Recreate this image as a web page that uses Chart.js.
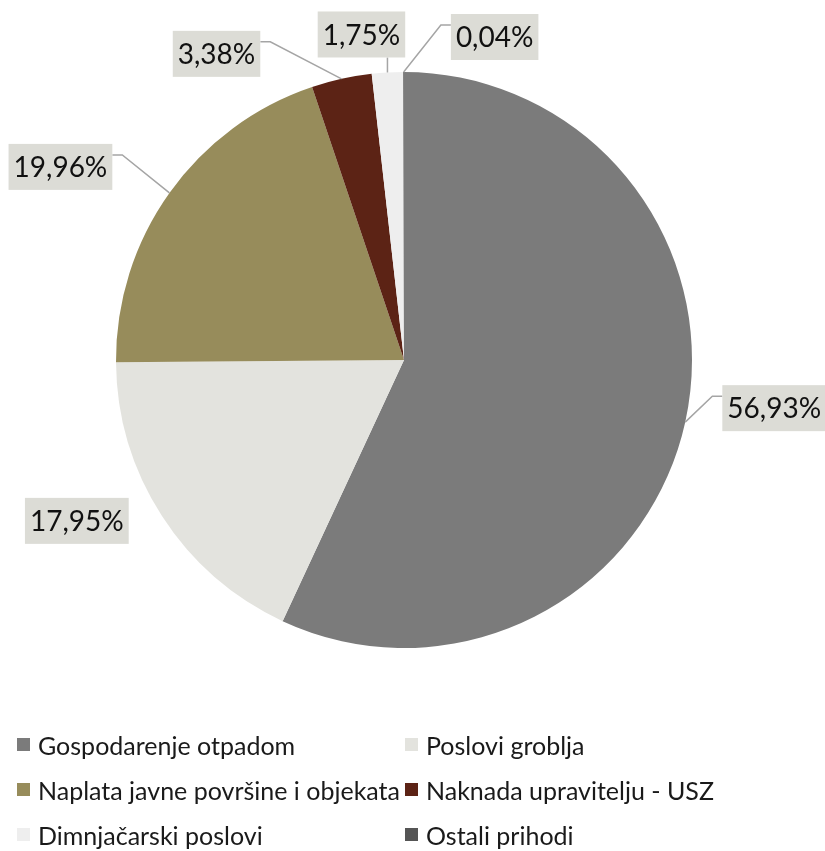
<!DOCTYPE html>
<html>
<head>
<meta charset="utf-8">
<script src="https://cdn.jsdelivr.net/npm/chart.js@4.4.1/dist/chart.umd.min.js"></script>
<style>
    html, body { margin: 0; padding: 0; background: #fff; }
    #wrap { position: relative; width: 825px; height: 851px; overflow: hidden; }
    #chart { position: absolute; left: 0; top: 0; }
    #legend {
        position: absolute; left: 17px; top: 722px;
        display: grid; grid-template-columns: 388px auto; grid-auto-rows: 45px;
        font-family: Lato, "Open Sans", sans-serif; font-size: 25px; color: #1a1a1a;
    }
    .item { display: flex; align-items: center; white-space: nowrap; }
    .swatch { width: 13px; height: 13px; margin-right: 8px; flex: none; }
</style>
</head>
<body>
<div id="wrap">
    <canvas id="chart" width="825" height="851"></canvas>
    <div id="legend"></div>
</div>
<script>
// podaci
var categories = ['Gospodarenje otpadom', 'Poslovi groblja', 'Naplata javne površine i objekata',
                  'Naknada upravitelju - USZ', 'Dimnjačarski poslovi', 'Ostali prihodi'];
var shares = [56.93, 17.95, 19.96, 3.38, 1.75, 0.04];
var colors = ['#7b7b7b', '#e3e3de', '#978c5b', '#5c2315', '#eeeeee', '#555555'];

// pomak oznake od ruba kruga i vrsta linije
var labelOffsets = [[89, -14], [-85, 5], [-109, -26], [-125, -25], [-26, -38], [91, -35]];
var leaderKinds = ['side', 'none', 'side', 'side', 'below', 'side'];

function fmt(v) {
    return v.toFixed(2).replace('.', ',') + '%';
}

// oznake s postotcima u sivim okvirima
var labelPlugin = {
    id: 'boxLabels',
    afterDatasetsDraw: function(chart) {
        var ctx = chart.ctx;
        var meta = chart.getDatasetMeta(0);
        ctx.save();
        ctx.font = '28px Lato, "Open Sans", sans-serif';
        ctx.textAlign = 'center';
        ctx.textBaseline = 'middle';
        meta.data.forEach(function(arc, i) {
            var p = arc.getProps(['x', 'y', 'startAngle', 'endAngle', 'outerRadius'], true);
            var mid = (p.startAngle + p.endAngle) / 2;
            var ex = p.x + Math.cos(mid) * p.outerRadius;
            var ey = p.y + Math.sin(mid) * p.outerRadius;
            var cx = ex + labelOffsets[i][0];
            var cy = ey + labelOffsets[i][1];
            var text = fmt(shares[i]);
            var w = ctx.measureText(text).width + 10;
            var h = 46;
            var left = cx - w / 2, top = cy - h / 2;

            ctx.strokeStyle = '#a5a5a5';
            ctx.lineWidth = 1.5;
            if (leaderKinds[i] === 'side') {
                var toRight = cx > ex;
                var sideX = toRight ? left : left + w;
                var elbowX = toRight ? sideX - 10 : sideX + 10;
                var ly = top + 11;
                ctx.beginPath();
                ctx.moveTo(ex, ey);
                ctx.lineTo(elbowX, ly);
                ctx.lineTo(sideX, ly);
                ctx.stroke();
            } else if (leaderKinds[i] === 'below') {
                ctx.beginPath();
                ctx.moveTo(ex, ey);
                ctx.lineTo(ex, top + h);
                ctx.stroke();
            }

            ctx.fillStyle = '#dcdcd6';
            ctx.fillRect(left, top, w, h);
            ctx.fillStyle = '#111';
            ctx.fillText(text, cx, cy + 1);
        });
        ctx.restore();
    }
};

var chart = new Chart(document.getElementById('chart'), {
    type: 'pie',
    data: {
        labels: categories,
        datasets: [{
            data: shares,
            backgroundColor: colors,
            borderWidth: 0
        }]
    },
    options: {
        responsive: false,
        animation: false,
        layout: { padding: { left: 116, right: 133, top: 72, bottom: 203 } },
        plugins: {
            legend: { display: false },
            tooltip: { enabled: false }
        }
    },
    plugins: [labelPlugin]
});

// legenda u dva stupca
var legend = document.getElementById('legend');
categories.forEach(function(name, i) {
    var item = document.createElement('div');
    item.className = 'item';
    var sw = document.createElement('span');
    sw.className = 'swatch';
    sw.style.background = colors[i];
    item.appendChild(sw);
    item.appendChild(document.createTextNode(name));
    legend.appendChild(item);
});
</script>
</body>
</html>
